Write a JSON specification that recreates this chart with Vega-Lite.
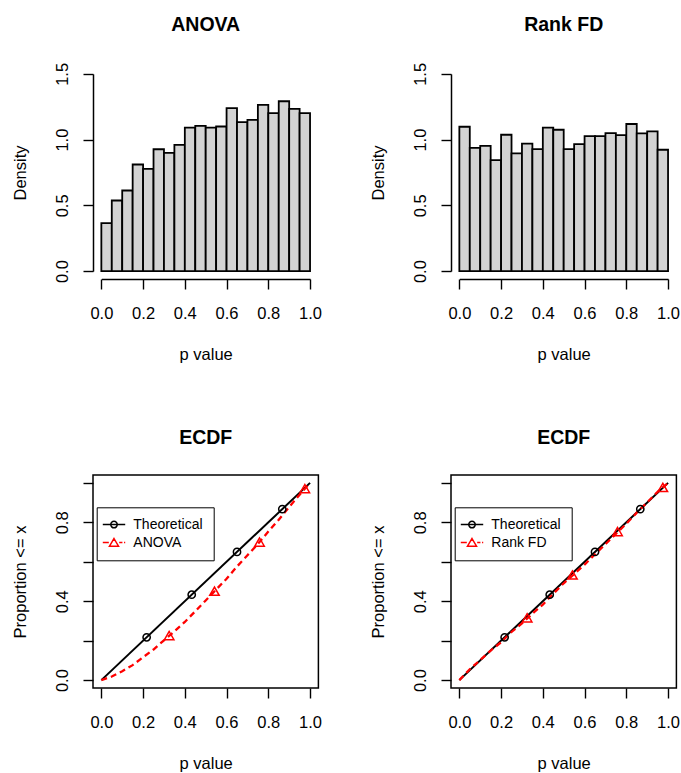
{
  "$schema": "https://vega.github.io/schema/vega-lite/v6.json",
  "background": "white",
  "padding": {"left": 11, "top": 15, "right": 4, "bottom": 2},
  "config": {
    "font": "Liberation Sans",
    "view": {"stroke": null},
    "title": {"font": "Liberation Sans", "fontSize": 19.5, "fontWeight": "bold", "color": "#000", "baseline": "alphabetic", "offset": 26.7, "anchor": "middle", "frame": "group"}
  },
  "datasets": {
    "hist_anova": [
      {"bin_start": 0.00, "bin_end": 0.05, "density": 0.365},
      {"bin_start": 0.05, "bin_end": 0.10, "density": 0.537},
      {"bin_start": 0.10, "bin_end": 0.15, "density": 0.613},
      {"bin_start": 0.15, "bin_end": 0.20, "density": 0.811},
      {"bin_start": 0.20, "bin_end": 0.25, "density": 0.778},
      {"bin_start": 0.25, "bin_end": 0.30, "density": 0.927},
      {"bin_start": 0.30, "bin_end": 0.35, "density": 0.899},
      {"bin_start": 0.35, "bin_end": 0.40, "density": 0.960},
      {"bin_start": 0.40, "bin_end": 0.45, "density": 1.092},
      {"bin_start": 0.45, "bin_end": 0.50, "density": 1.105},
      {"bin_start": 0.50, "bin_end": 0.55, "density": 1.092},
      {"bin_start": 0.55, "bin_end": 0.60, "density": 1.100},
      {"bin_start": 0.60, "bin_end": 0.65, "density": 1.239},
      {"bin_start": 0.65, "bin_end": 0.70, "density": 1.133},
      {"bin_start": 0.70, "bin_end": 0.75, "density": 1.150},
      {"bin_start": 0.75, "bin_end": 0.80, "density": 1.264},
      {"bin_start": 0.80, "bin_end": 0.85, "density": 1.201},
      {"bin_start": 0.85, "bin_end": 0.90, "density": 1.292},
      {"bin_start": 0.90, "bin_end": 0.95, "density": 1.234},
      {"bin_start": 0.95, "bin_end": 1.00, "density": 1.201}
    ],
    "hist_rank": [
      {"bin_start": 0.00, "bin_end": 0.05, "density": 1.098},
      {"bin_start": 0.05, "bin_end": 0.10, "density": 0.938},
      {"bin_start": 0.10, "bin_end": 0.15, "density": 0.953},
      {"bin_start": 0.15, "bin_end": 0.20, "density": 0.844},
      {"bin_start": 0.20, "bin_end": 0.25, "density": 1.037},
      {"bin_start": 0.25, "bin_end": 0.30, "density": 0.895},
      {"bin_start": 0.30, "bin_end": 0.35, "density": 0.969},
      {"bin_start": 0.35, "bin_end": 0.40, "density": 0.928},
      {"bin_start": 0.40, "bin_end": 0.45, "density": 1.091},
      {"bin_start": 0.45, "bin_end": 0.50, "density": 1.075},
      {"bin_start": 0.50, "bin_end": 0.55, "density": 0.928},
      {"bin_start": 0.55, "bin_end": 0.60, "density": 0.966},
      {"bin_start": 0.60, "bin_end": 0.65, "density": 1.027},
      {"bin_start": 0.65, "bin_end": 0.70, "density": 1.027},
      {"bin_start": 0.70, "bin_end": 0.75, "density": 1.050},
      {"bin_start": 0.75, "bin_end": 0.80, "density": 1.035},
      {"bin_start": 0.80, "bin_end": 0.85, "density": 1.119},
      {"bin_start": 0.85, "bin_end": 0.90, "density": 1.047},
      {"bin_start": 0.90, "bin_end": 0.95, "density": 1.063},
      {"bin_start": 0.95, "bin_end": 1.00, "density": 0.923}
    ],
    "curve_anova": [
      {"p": 0, "prop": 0, "series": "Theoretical"},
      {"p": 1, "prop": 1, "series": "Theoretical"},
      {"p": 0.00, "prop": 0.000, "series": "ANOVA"},
      {"p": 0.05, "prop": 0.018, "series": "ANOVA"},
      {"p": 0.10, "prop": 0.045, "series": "ANOVA"},
      {"p": 0.15, "prop": 0.076, "series": "ANOVA"},
      {"p": 0.20, "prop": 0.116, "series": "ANOVA"},
      {"p": 0.25, "prop": 0.155, "series": "ANOVA"},
      {"p": 0.30, "prop": 0.202, "series": "ANOVA"},
      {"p": 0.35, "prop": 0.247, "series": "ANOVA"},
      {"p": 0.40, "prop": 0.295, "series": "ANOVA"},
      {"p": 0.45, "prop": 0.349, "series": "ANOVA"},
      {"p": 0.50, "prop": 0.404, "series": "ANOVA"},
      {"p": 0.55, "prop": 0.459, "series": "ANOVA"},
      {"p": 0.60, "prop": 0.514, "series": "ANOVA"},
      {"p": 0.65, "prop": 0.576, "series": "ANOVA"},
      {"p": 0.70, "prop": 0.633, "series": "ANOVA"},
      {"p": 0.75, "prop": 0.690, "series": "ANOVA"},
      {"p": 0.80, "prop": 0.753, "series": "ANOVA"},
      {"p": 0.85, "prop": 0.813, "series": "ANOVA"},
      {"p": 0.90, "prop": 0.878, "series": "ANOVA"},
      {"p": 0.95, "prop": 0.940, "series": "ANOVA"},
      {"p": 1.00, "prop": 1.000, "series": "ANOVA"}
    ],
    "marks_anova": [
      {"p": 0.217, "prop": 0.217, "series": "Theoretical"},
      {"p": 0.433, "prop": 0.433, "series": "Theoretical"},
      {"p": 0.650, "prop": 0.650, "series": "Theoretical"},
      {"p": 0.867, "prop": 0.867, "series": "Theoretical"},
      {"p": 0.325, "prop": 0.226, "series": "ANOVA"},
      {"p": 0.542, "prop": 0.451, "series": "ANOVA"},
      {"p": 0.758, "prop": 0.700, "series": "ANOVA"},
      {"p": 0.975, "prop": 0.971, "series": "ANOVA"}
    ],
    "curve_rank": [
      {"p": 0, "prop": 0, "series": "Theoretical"},
      {"p": 1, "prop": 1, "series": "Theoretical"},
      {"p": 0.00, "prop": 0.000, "series": "Rank FD"},
      {"p": 0.05, "prop": 0.055, "series": "Rank FD"},
      {"p": 0.10, "prop": 0.102, "series": "Rank FD"},
      {"p": 0.15, "prop": 0.150, "series": "Rank FD"},
      {"p": 0.20, "prop": 0.192, "series": "Rank FD"},
      {"p": 0.25, "prop": 0.244, "series": "Rank FD"},
      {"p": 0.30, "prop": 0.288, "series": "Rank FD"},
      {"p": 0.35, "prop": 0.337, "series": "Rank FD"},
      {"p": 0.40, "prop": 0.383, "series": "Rank FD"},
      {"p": 0.45, "prop": 0.438, "series": "Rank FD"},
      {"p": 0.50, "prop": 0.491, "series": "Rank FD"},
      {"p": 0.55, "prop": 0.538, "series": "Rank FD"},
      {"p": 0.60, "prop": 0.586, "series": "Rank FD"},
      {"p": 0.65, "prop": 0.638, "series": "Rank FD"},
      {"p": 0.70, "prop": 0.689, "series": "Rank FD"},
      {"p": 0.75, "prop": 0.741, "series": "Rank FD"},
      {"p": 0.80, "prop": 0.793, "series": "Rank FD"},
      {"p": 0.85, "prop": 0.849, "series": "Rank FD"},
      {"p": 0.90, "prop": 0.901, "series": "Rank FD"},
      {"p": 0.95, "prop": 0.955, "series": "Rank FD"},
      {"p": 1.00, "prop": 1.000, "series": "Rank FD"}
    ],
    "marks_rank": [
      {"p": 0.217, "prop": 0.217, "series": "Theoretical"},
      {"p": 0.433, "prop": 0.433, "series": "Theoretical"},
      {"p": 0.650, "prop": 0.650, "series": "Theoretical"},
      {"p": 0.867, "prop": 0.867, "series": "Theoretical"},
      {"p": 0.325, "prop": 0.316, "series": "Rank FD"},
      {"p": 0.542, "prop": 0.533, "series": "Rank FD"},
      {"p": 0.758, "prop": 0.753, "series": "Rank FD"},
      {"p": 0.975, "prop": 0.977, "series": "Rank FD"}
    ]
  },
  "columns": 2,
  "bounds": "flush",
  "spacing": {"row": 196, "column": 132},
  "resolve": {
    "scale": {"color": "independent", "shape": "independent"},
    "legend": {"color": "independent", "shape": "independent"}
  },
  "concat": [
    {
      "title": "ANOVA",
      "width": 225.4, "height": 213,
      "data": {"name": "hist_anova"},
      "mark": {"type": "bar", "fill": "#d3d3d3", "stroke": "#000", "strokeWidth": 1.8},
      "encoding": {
        "x": {"field": "bin_start", "type": "quantitative",
          "scale": {"domain": [0, 1], "range": [8.35, 217.05], "nice": false, "zero": false},
          "axis": {"title": "p value", "values": [0, 0.2, 0.4, 0.6, 0.8, 1], "format": ".1f", "grid": false,
            "domain": true, "domainColor": "#000", "domainWidth": 1.5,
            "tickSize": 10, "tickWidth": 1.4, "tickColor": "#000",
            "labelFontSize": 16.5, "labelColor": "#000", "labelBaseline": "alphabetic", "labelPadding": 29.4, "labelOverlap": false, "labelFlush": false,
            "titleFontSize": 16.5, "titleFontWeight": "normal", "titleColor": "#000", "titleBaseline": "alphabetic", "titleY": 80.4}},
        "x2": {"field": "bin_end"},
        "y": {"field": "density", "type": "quantitative",
          "scale": {"domain": [0, 1.5], "range": [205.11, 7.89], "nice": false, "zero": false},
          "axis": {"title": "Density", "values": [0, 0.5, 1, 1.5], "format": ".1f", "grid": false,
            "domain": true, "domainColor": "#000", "domainWidth": 1.5,
            "tickSize": 10, "tickWidth": 1.4, "tickColor": "#000",
            "labelFontSize": 16.5, "labelColor": "#000", "labelAngle": -90, "labelAlign": "center", "labelBaseline": "alphabetic", "labelPadding": 15.3, "labelOverlap": false, "labelFlush": false,
            "titleFontSize": 16.5, "titleFontWeight": "normal", "titleColor": "#000", "titleAngle": -90, "titleAlign": "center", "titleBaseline": "alphabetic", "titleX": -68, "titleY": 106.5}},
        "y2": {"datum": 0}
      }
    },
    {
      "title": "Rank FD",
      "width": 225.4, "height": 213,
      "data": {"name": "hist_rank"},
      "mark": {"type": "bar", "fill": "#d3d3d3", "stroke": "#000", "strokeWidth": 1.8},
      "encoding": {
        "x": {"field": "bin_start", "type": "quantitative",
          "scale": {"domain": [0, 1], "range": [8.35, 217.05], "nice": false, "zero": false},
          "axis": {"title": "p value", "values": [0, 0.2, 0.4, 0.6, 0.8, 1], "format": ".1f", "grid": false,
            "domain": true, "domainColor": "#000", "domainWidth": 1.5,
            "tickSize": 10, "tickWidth": 1.4, "tickColor": "#000",
            "labelFontSize": 16.5, "labelColor": "#000", "labelBaseline": "alphabetic", "labelPadding": 29.4, "labelOverlap": false, "labelFlush": false,
            "titleFontSize": 16.5, "titleFontWeight": "normal", "titleColor": "#000", "titleBaseline": "alphabetic", "titleY": 80.4}},
        "x2": {"field": "bin_end"},
        "y": {"field": "density", "type": "quantitative",
          "scale": {"domain": [0, 1.5], "range": [205.11, 7.89], "nice": false, "zero": false},
          "axis": {"title": "Density", "values": [0, 0.5, 1, 1.5], "format": ".1f", "grid": false,
            "domain": true, "domainColor": "#000", "domainWidth": 1.5,
            "tickSize": 10, "tickWidth": 1.4, "tickColor": "#000",
            "labelFontSize": 16.5, "labelColor": "#000", "labelAngle": -90, "labelAlign": "center", "labelBaseline": "alphabetic", "labelPadding": 15.3, "labelOverlap": false, "labelFlush": false,
            "titleFontSize": 16.5, "titleFontWeight": "normal", "titleColor": "#000", "titleAngle": -90, "titleAlign": "center", "titleBaseline": "alphabetic", "titleX": -68, "titleY": 106.5}},
        "y2": {"datum": 0}
      }
    },
    {
      "title": "ECDF",
      "width": 225.4, "height": 213,
      "view": {"stroke": "#000", "strokeWidth": 1.5},
      "encoding": {
        "x": {"field": "p", "type": "quantitative",
          "scale": {"domain": [0, 1], "range": [8.35, 217.05], "nice": false, "zero": false},
          "axis": {"title": "p value", "values": [0, 0.2, 0.4, 0.6, 0.8, 1], "format": ".1f", "grid": false, "domain": false,
            "tickSize": 10, "tickWidth": 1.4, "tickColor": "#000",
            "labelFontSize": 16.5, "labelColor": "#000", "labelBaseline": "alphabetic", "labelPadding": 29.4, "labelOverlap": false, "labelFlush": false,
            "titleFontSize": 16.5, "titleFontWeight": "normal", "titleColor": "#000", "titleBaseline": "alphabetic", "titleY": 80.4}},
        "y": {"field": "prop", "type": "quantitative",
          "scale": {"domain": [0, 1], "range": [205.11, 7.89], "nice": false, "zero": false},
          "axis": {"title": "Proportion <= x", "values": [0, 0.2, 0.4, 0.6, 0.8, 1], "grid": false, "domain": false,
            "labelExpr": "(abs(datum.value) < 1e-6 || abs(datum.value - 0.4) < 1e-6 || abs(datum.value - 0.8) < 1e-6) ? format(datum.value, '.1f') : ''",
            "tickSize": 10, "tickWidth": 1.4, "tickColor": "#000",
            "labelFontSize": 16.5, "labelColor": "#000", "labelAngle": -90, "labelAlign": "center", "labelBaseline": "alphabetic", "labelPadding": 15.3, "labelOverlap": false, "labelFlush": false,
            "titleFontSize": 16.5, "titleFontWeight": "normal", "titleColor": "#000", "titleAngle": -90, "titleAlign": "center", "titleBaseline": "alphabetic", "titleX": -68, "titleY": 106.5}}
      },
      "layer": [
        {"data": {"name": "curve_anova"}, "transform": [{"filter": "datum.series === 'Theoretical'"}],
         "mark": {"type": "line", "color": "#000", "strokeWidth": 2}},
        {"data": {"name": "curve_anova"}, "transform": [{"filter": "datum.series === 'ANOVA'"}],
         "mark": {"type": "line", "color": "#ff0000", "strokeWidth": 2.3, "strokeDash": [6, 4]}},
        {"data": {"name": "marks_anova"}, "transform": [{"filter": "datum.series === 'Theoretical'"}],
         "mark": {"type": "point", "shape": "circle", "filled": false, "color": "#000", "size": 53, "strokeWidth": 1.5, "opacity": 1}},
        {"data": {"name": "marks_anova"}, "transform": [{"filter": "datum.series === 'ANOVA'"}],
         "mark": {"type": "point", "shape": "triangle-up", "filled": false, "color": "#ff0000", "size": 90, "strokeWidth": 1.5, "opacity": 1}},
        {"data": {"name": "marks_anova"},
         "mark": {"type": "point", "filled": false, "opacity": 0, "size": 42},
         "encoding": {
           "color": {"field": "series", "type": "nominal",
             "scale": {"domain": ["Theoretical", "ANOVA"], "range": ["#000000", "#ff0000"]},
             "legend": {"title": null, "orient": "none", "legendX": 3.7, "legendY": 32.3, "padding": 10.3, "strokeColor": "#000", "symbolSize": 42, "symbolStrokeWidth": 1.5, "symbolOpacity": 1, "labelFontSize": 14, "labelColor": "#000", "labelOffset": 12.3, "rowPadding": 3, "labelLimit": 0}},
           "shape": {"field": "series", "type": "nominal",
             "scale": {"domain": ["Theoretical", "ANOVA"], "range": ["M-3.46,0L3.46,0M1,0A1,1,0,1,1,-1,0A1,1,0,1,1,1,0Z", "M-3.46,0L-1.6,0M1.6,0L2.6,0M3.1,0L3.46,0M0,-1.25L1.4,1.1L-1.4,1.1Z"]},
             "legend": {"title": null, "orient": "none", "legendX": 3.7, "legendY": 32.3, "padding": 10.3, "strokeColor": "#000", "symbolSize": 42, "symbolStrokeWidth": 1.5, "symbolOpacity": 1, "labelFontSize": 14, "labelColor": "#000", "labelOffset": 12.3, "rowPadding": 3, "labelLimit": 0}}
         }}
      ]
    },
    {
      "title": "ECDF",
      "width": 225.4, "height": 213,
      "view": {"stroke": "#000", "strokeWidth": 1.5},
      "encoding": {
        "x": {"field": "p", "type": "quantitative",
          "scale": {"domain": [0, 1], "range": [8.35, 217.05], "nice": false, "zero": false},
          "axis": {"title": "p value", "values": [0, 0.2, 0.4, 0.6, 0.8, 1], "format": ".1f", "grid": false, "domain": false,
            "tickSize": 10, "tickWidth": 1.4, "tickColor": "#000",
            "labelFontSize": 16.5, "labelColor": "#000", "labelBaseline": "alphabetic", "labelPadding": 29.4, "labelOverlap": false, "labelFlush": false,
            "titleFontSize": 16.5, "titleFontWeight": "normal", "titleColor": "#000", "titleBaseline": "alphabetic", "titleY": 80.4}},
        "y": {"field": "prop", "type": "quantitative",
          "scale": {"domain": [0, 1], "range": [205.11, 7.89], "nice": false, "zero": false},
          "axis": {"title": "Proportion <= x", "values": [0, 0.2, 0.4, 0.6, 0.8, 1], "grid": false, "domain": false,
            "labelExpr": "(abs(datum.value) < 1e-6 || abs(datum.value - 0.4) < 1e-6 || abs(datum.value - 0.8) < 1e-6) ? format(datum.value, '.1f') : ''",
            "tickSize": 10, "tickWidth": 1.4, "tickColor": "#000",
            "labelFontSize": 16.5, "labelColor": "#000", "labelAngle": -90, "labelAlign": "center", "labelBaseline": "alphabetic", "labelPadding": 15.3, "labelOverlap": false, "labelFlush": false,
            "titleFontSize": 16.5, "titleFontWeight": "normal", "titleColor": "#000", "titleAngle": -90, "titleAlign": "center", "titleBaseline": "alphabetic", "titleX": -68, "titleY": 106.5}}
      },
      "layer": [
        {"data": {"name": "curve_rank"}, "transform": [{"filter": "datum.series === 'Theoretical'"}],
         "mark": {"type": "line", "color": "#000", "strokeWidth": 2}},
        {"data": {"name": "curve_rank"}, "transform": [{"filter": "datum.series === 'Rank FD'"}],
         "mark": {"type": "line", "color": "#ff0000", "strokeWidth": 2.3, "strokeDash": [6, 4]}},
        {"data": {"name": "marks_rank"}, "transform": [{"filter": "datum.series === 'Theoretical'"}],
         "mark": {"type": "point", "shape": "circle", "filled": false, "color": "#000", "size": 53, "strokeWidth": 1.5, "opacity": 1}},
        {"data": {"name": "marks_rank"}, "transform": [{"filter": "datum.series === 'Rank FD'"}],
         "mark": {"type": "point", "shape": "triangle-up", "filled": false, "color": "#ff0000", "size": 90, "strokeWidth": 1.5, "opacity": 1}},
        {"data": {"name": "marks_rank"},
         "mark": {"type": "point", "filled": false, "opacity": 0, "size": 42},
         "encoding": {
           "color": {"field": "series", "type": "nominal",
             "scale": {"domain": ["Theoretical", "Rank FD"], "range": ["#000000", "#ff0000"]},
             "legend": {"title": null, "orient": "none", "legendX": 3.7, "legendY": 32.3, "padding": 10.3, "strokeColor": "#000", "symbolSize": 42, "symbolStrokeWidth": 1.5, "symbolOpacity": 1, "labelFontSize": 14, "labelColor": "#000", "labelOffset": 12.3, "rowPadding": 3, "labelLimit": 0}},
           "shape": {"field": "series", "type": "nominal",
             "scale": {"domain": ["Theoretical", "Rank FD"], "range": ["M-3.46,0L3.46,0M1,0A1,1,0,1,1,-1,0A1,1,0,1,1,1,0Z", "M-3.46,0L-1.6,0M1.6,0L2.6,0M3.1,0L3.46,0M0,-1.25L1.4,1.1L-1.4,1.1Z"]},
             "legend": {"title": null, "orient": "none", "legendX": 3.7, "legendY": 32.3, "padding": 10.3, "strokeColor": "#000", "symbolSize": 42, "symbolStrokeWidth": 1.5, "symbolOpacity": 1, "labelFontSize": 14, "labelColor": "#000", "labelOffset": 12.3, "rowPadding": 3, "labelLimit": 0}}
         }}
      ]
    }
  ]
}
